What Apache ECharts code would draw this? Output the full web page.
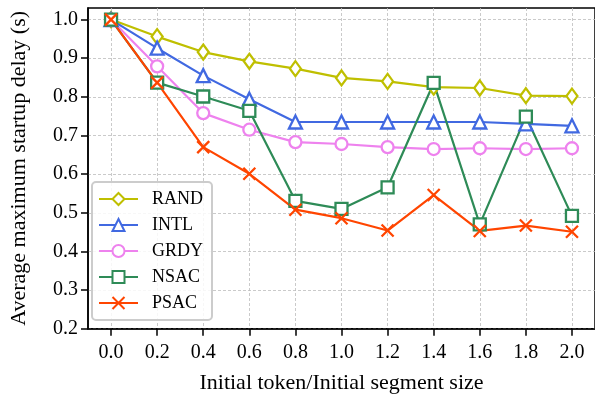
<!DOCTYPE html>
<html>
<head>
<meta charset="utf-8">
<script src="https://cdn.jsdelivr.net/npm/echarts@6/dist/echarts.min.js"></script>
<style>
  html, body { margin: 0; padding: 0; background: #fff; }
  #chart { width: 595px; height: 401px; }
</style>
</head>
<body>
<div id="chart"></div>
<script>
// Initial token / initial segment size ratios
const xCategories = ['0.0', '0.2', '0.4', '0.6', '0.8', '1.0', '1.2', '1.4', '1.6', '1.8', '2.0'];
const yTicks = [0.2, 0.3, 0.4, 0.5, 0.6, 0.7, 0.8, 0.9, 1.0];

// Average maximum startup delay (s) per scheme
const randValues = [1.000, 0.956, 0.916, 0.892, 0.873, 0.849, 0.840, 0.825, 0.823, 0.803, 0.802];
const intlValues = [1.000, 0.926, 0.855, 0.794, 0.735, 0.735, 0.735, 0.735, 0.735, 0.730, 0.725];
const grdyValues = [1.000, 0.879, 0.758, 0.715, 0.683, 0.678, 0.670, 0.665, 0.667, 0.665, 0.667];
const nsacValues = [1.000, 0.837, 0.801, 0.764, 0.531, 0.510, 0.566, 0.836, 0.470, 0.749, 0.492];
const psacValues = [1.000, 0.837, 0.670, 0.601, 0.508, 0.486, 0.454, 0.546, 0.453, 0.467, 0.451];

const FONT = '"Liberation Serif", "DejaVu Serif", serif';
const X_MARK = 'path://M0,0L10,10M10,0L0,10';

function lineSeries(name, data, color, symbol, size, filled) {
  return {
    name: name,
    type: 'line',
    data: data,
    symbol: symbol,
    symbolSize: size,
    showAllSymbol: true,
    lineStyle: { color: color, width: 2.2 },
    itemStyle: {
      color: filled ? color : '#ffffff',
      borderColor: color,
      borderWidth: 2.3
    },
    emphasis: { disabled: true },
    animation: false
  };
}

const chart = echarts.init(document.getElementById('chart'), null, { renderer: 'canvas' });
chart.setOption({
  backgroundColor: '#ffffff',
  animation: false,
  grid: {
    left: 83, top: 8, width: 514.7, height: 320.7,
    show: true, borderColor: '#000', borderWidth: 1.5,
    backgroundColor: 'transparent'
  },
  legend: {
    orient: 'vertical',
    left: 92, top: 182,
    padding: [8, 9, 8, 6],
    itemGap: 8,
    itemWidth: 39,
    itemHeight: 15,
    backgroundColor: 'rgba(255,255,255,0.85)',
    borderColor: '#cccccc',
    borderWidth: 2,
    borderRadius: 4,
    textStyle: { fontFamily: FONT, fontSize: 18, color: '#000', lineHeight: 18, padding: [0, 0, 0, 9] },
    data: ['RAND', 'INTL', 'GRDY', 'NSAC', 'PSAC']
  },
  xAxis: {
    type: 'category',
    data: xCategories,
    boundaryGap: true,
    name: 'Initial token/Initial segment size',
    nameLocation: 'middle',
    nameGap: 44,
    nameTextStyle: { fontFamily: FONT, fontSize: 22, color: '#000' },
    axisLine: { show: true, lineStyle: { color: '#000', width: 1.5 } },
    axisTick: { show: true, alignWithLabel: true, length: 7, lineStyle: { color: '#000', width: 1.5 } },
    axisLabel: { fontFamily: FONT, fontSize: 20, color: '#000', margin: 14 },
    splitLine: { show: true, alignWithLabel: true, lineStyle: { color: '#bdbdbd', width: 0.8, type: [3, 2] } }
  },
  yAxis: {
    type: 'value',
    min: 0.2, max: 1.03, interval: 0.1,
    name: 'Average maximum startup delay (s)',
    nameLocation: 'middle',
    nameGap: 58,
    nameTextStyle: { fontFamily: FONT, fontSize: 22, color: '#000' },
    axisLine: { show: true, lineStyle: { color: '#000', width: 1.5 } },
    axisTick: { show: true, length: 7, customValues: yTicks, lineStyle: { color: '#000', width: 1.5 } },
    axisLabel: {
      fontFamily: FONT, fontSize: 20, color: '#000', margin: 10,
      customValues: yTicks,
      formatter: function (v) { return v.toFixed(1); }
    },
    splitLine: { show: true, lineStyle: { color: '#bdbdbd', width: 0.8, type: [3, 2] } }
  },
  series: [
    lineSeries('RAND', randValues, '#bfbf00', 'diamond', [11, 15], false),
    lineSeries('INTL', intlValues, '#4169e1', 'triangle', 13, false),
    lineSeries('GRDY', grdyValues, '#ee82ee', 'circle', 12, false),
    lineSeries('NSAC', nsacValues, '#2e8b57', 'rect', 12, false),
    lineSeries('PSAC', psacValues, '#ff4500', X_MARK, 12, true)
  ]
});
</script>
</body>
</html>
